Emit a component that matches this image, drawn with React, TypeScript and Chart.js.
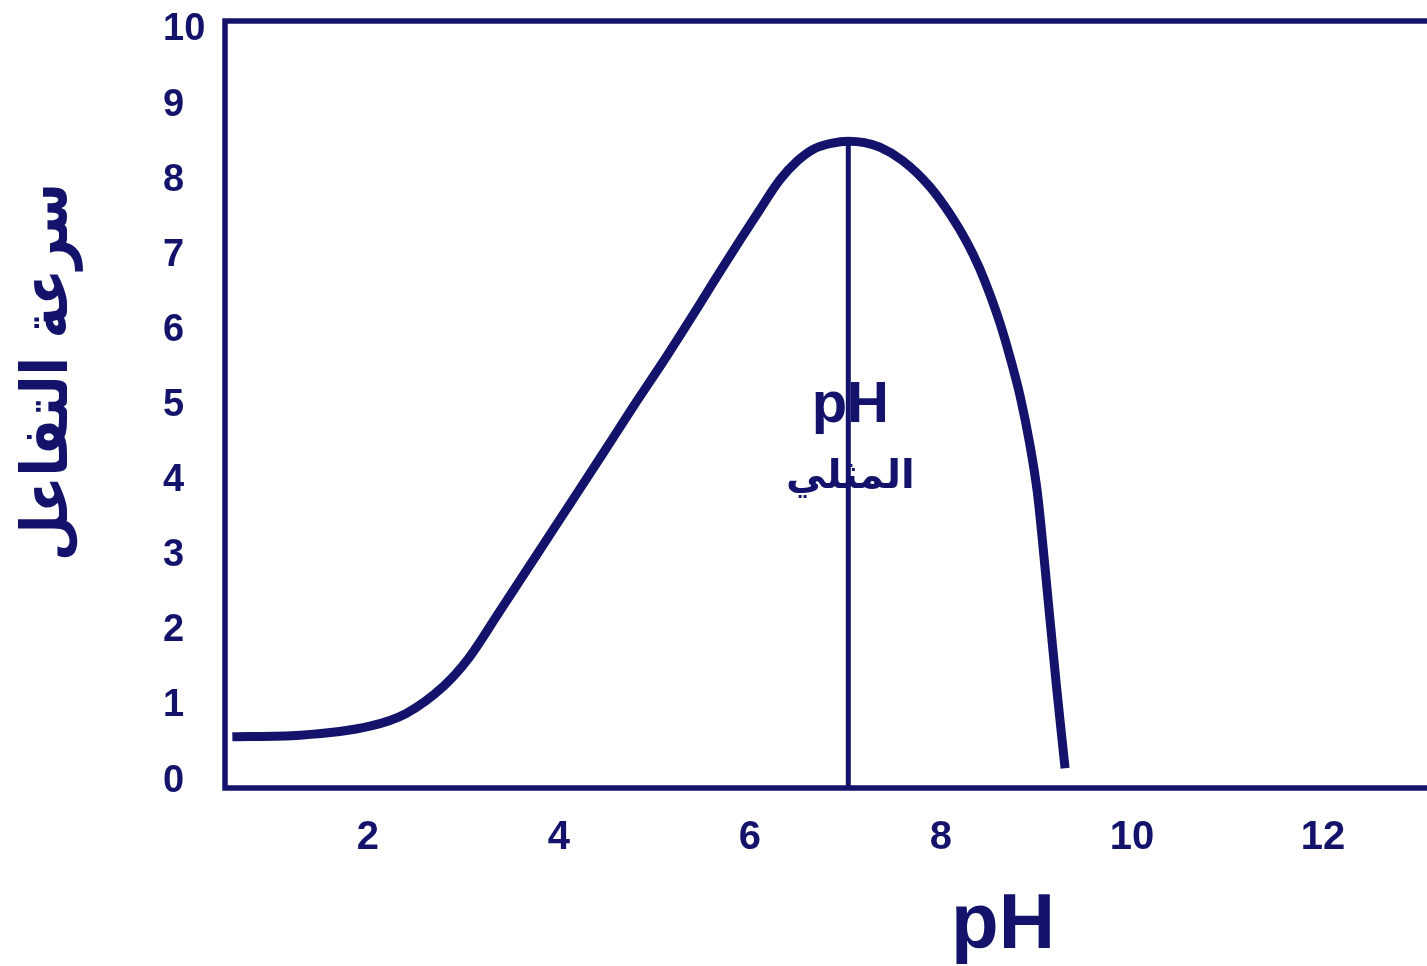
import React, { useEffect, useRef } from "react";
import { Chart, registerables } from "chart.js";

Chart.register(...registerables);

// Reaction rate against pH: rises slowly, peaks at the optimum, then drops sharply.
const PH_VALUES = [
  0.58, 1.29, 2.02, 2.40, 2.79, 3.04, 3.38, 3.73, 4.08, 4.43, 4.77, 5.13, 5.48,
  5.70, 5.90, 6.10, 6.31, 6.50, 6.66, 6.85, 7.03, 7.20, 7.36, 7.60, 7.88, 8.10,
  8.27, 8.40, 8.51, 8.62, 8.72, 8.83, 8.93, 9.01, 9.06, 9.12, 9.21, 9.30,
];
const RATE_VALUES = [
  0.59, 0.61, 0.73, 0.90, 1.26, 1.61, 2.26, 2.94, 3.62, 4.30, 4.97, 5.66, 6.36,
  6.81, 7.21, 7.60, 8.00, 8.26, 8.41, 8.49, 8.52, 8.50, 8.44, 8.26, 7.92, 7.54,
  7.18, 6.84, 6.49, 6.09, 5.66, 5.12, 4.49, 3.84, 3.24, 2.44, 1.26, 0.17,
];

const OPTIMUM_PH = 7.03;
const OPTIMUM_RATE = 8.52;

const X_TICKS = [2, 4, 6, 8, 10, 12];
const Y_TICKS = [0, 1, 2, 3, 4, 5, 6, 7, 8, 9, 10];

const X_MIN = 0.503;
const X_MAX = 13.09;
const Y_MIN = -0.093;
const Y_MAX = 10.12;

const Y_TITLE = "سرعة التفاعل";
const X_TITLE = "pH";
const OPT_LABEL_TOP = "pH";
const OPT_LABEL_BOTTOM = "المثلي";

const INK = "#13136b";
const NUM_FONT = '"Liberation Sans Narrow", "Liberation Sans", Arial, sans-serif';
const LATIN_FONT = '"Liberation Sans", Arial, sans-serif';
const ARABIC_FONT = '"DejaVu Sans", sans-serif';

const W = 1427;
const H = 966;

const decorPlugin = {
  id: "decor",
  afterDatasetsDraw(chart: any) {
    const { ctx, chartArea } = chart;
    const xs = chart.scales.x;
    const ys = chart.scales.y;
    ctx.save();

    // open frame: left, top and bottom sides
    ctx.strokeStyle = INK;
    ctx.lineWidth = 5.5;
    ctx.lineCap = "butt";
    ctx.beginPath();
    ctx.moveTo(W + 10, chartArea.top);
    ctx.lineTo(chartArea.left, chartArea.top);
    ctx.lineTo(chartArea.left, chartArea.bottom);
    ctx.lineTo(W + 10, chartArea.bottom);
    ctx.stroke();

    ctx.fillStyle = INK;
    const ox = xs.getPixelForValue(OPTIMUM_PH) + 2;

    ctx.textAlign = "center";
    ctx.textBaseline = "alphabetic";
    ctx.font = `bold 58px ${LATIN_FONT}`;
    ctx.fillText(OPT_LABEL_TOP, ox, ys.getPixelForValue(4.78));

    ctx.font = `bold 40px ${ARABIC_FONT}`;
    ctx.fillText(OPT_LABEL_BOTTOM, ox, ys.getPixelForValue(3.9));

    // axis titles
    ctx.font = `bold 78px ${LATIN_FONT}`;
    ctx.fillText(X_TITLE, 1003, 948);

    ctx.save();
    ctx.translate(50, 372);
    ctx.rotate(-Math.PI / 2);
    ctx.font = `bold 64px ${ARABIC_FONT}`;
    ctx.textBaseline = "middle";
    const tw = ctx.measureText(Y_TITLE).width;
    ctx.scale(Math.min(1, 378 / tw), 1);
    ctx.fillText(Y_TITLE, 0, 0);
    ctx.restore();

    ctx.restore();
  },
};

export default function App() {
  const ref = useRef<HTMLCanvasElement | null>(null);

  useEffect(() => {
    if (!ref.current) return;
    const curve = PH_VALUES.map((x, i) => ({ x, y: RATE_VALUES[i] }));
    const chart = new Chart(ref.current, {
      type: "line",
      data: {
        datasets: [
          {
            data: curve,
            borderColor: INK,
            borderWidth: 9,
            borderCapStyle: "butt",
            borderJoinStyle: "round",
            pointRadius: 0,
            cubicInterpolationMode: "monotone",
            fill: false,
          },
          {
            data: [
              { x: OPTIMUM_PH, y: OPTIMUM_RATE },
              { x: OPTIMUM_PH, y: Y_MIN },
            ],
            borderColor: INK,
            borderWidth: 5,
            pointRadius: 0,
            fill: false,
          },
        ],
      },
      options: {
        responsive: false,
        animation: false,
        events: [],
        layout: { padding: { left: 163, top: 21, right: 0, bottom: 0 } },
        plugins: {
          legend: { display: false },
          tooltip: { enabled: false },
          title: { display: false },
        },
        scales: {
          x: {
            type: "linear",
            min: X_MIN,
            max: X_MAX,
            afterBuildTicks: (s: any) => {
              s.ticks = X_TICKS.map((v) => ({ value: v }));
            },
            afterFit: (s: any) => {
              s.height = H - 788;
              s.paddingLeft = 0;
              s.paddingRight = 0;
            },
            grid: { display: false, drawTicks: false },
            border: { display: false },
            ticks: {
              color: INK,
              padding: 26,
              maxRotation: 0,
              autoSkip: false,
              font: { family: NUM_FONT, size: 40, weight: "bold" },
            },
          },
          y: {
            type: "linear",
            min: Y_MIN,
            max: Y_MAX,
            afterBuildTicks: (s: any) => {
              s.ticks = Y_TICKS.map((v) => ({ value: v }));
            },
            afterFit: (s: any) => {
              s.width = 62;
              s.paddingTop = 0;
              s.paddingBottom = 0;
            },
            grid: { display: false, drawTicks: false },
            border: { display: false },
            ticks: {
              color: INK,
              crossAlign: "far",
              autoSkip: false,
              font: { family: NUM_FONT, size: 38, weight: "bold" },
            },
          },
        },
      },
      plugins: [decorPlugin],
    } as any);
    return () => chart.destroy();
  }, []);

  return (
    <div
      style={{
        position: "fixed",
        left: 0,
        top: 0,
        width: W,
        height: H,
        background: "#ffffff",
        overflow: "hidden",
      }}
    >
      <canvas ref={ref} width={W} height={H} style={{ width: W, height: H, display: "block" }} />
    </div>
  );
}
